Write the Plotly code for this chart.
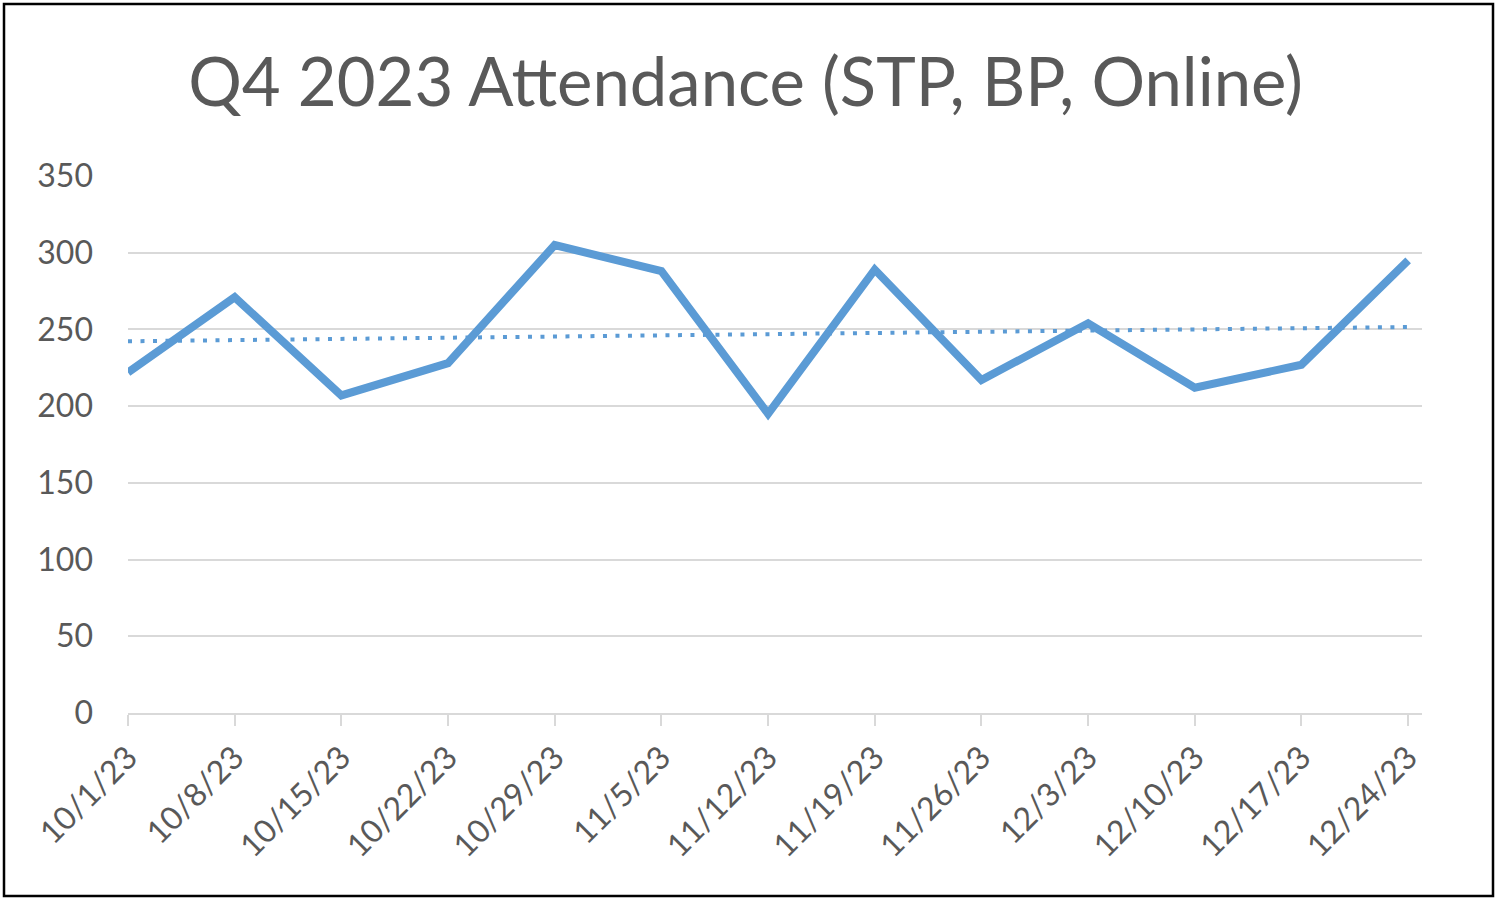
import numpy as np
import plotly.graph_objects as go

# weekly attendance, Q4 2023
dates = ['10/1/23', '10/8/23', '10/15/23', '10/22/23', '10/29/23', '11/5/23',
         '11/12/23', '11/19/23', '11/26/23', '12/3/23', '12/10/23', '12/17/23',
         '12/24/23']
attendance = [222, 271, 207, 228, 305, 288, 195, 289, 217, 254, 212, 227, 295]

ticks_y = [0, 50, 100, 150, 200, 250, 300, 350]

idx = np.arange(len(dates))
# linear trendline, as excel draws it
slope, icpt = np.polyfit(idx, attendance, 1)
trend = slope * idx + icpt

BLUE = '#5B9BD5'
GREY = '#595959'
FONT = 'Lato'

fig = go.Figure()
fig.add_trace(go.Scatter(x=idx, y=trend, mode='lines',
                         line=dict(color=BLUE, width=4, dash='4px,8.5px'),
                         hoverinfo='skip'))
fig.add_trace(go.Scatter(x=idx, y=attendance, mode='lines',
                         line=dict(color=BLUE, width=8)))

W, H = 1500, 905
L, R, T, B = 128, 78, 176, 192
pw, ph = W - L - R, H - T - B

fig.update_layout(
    width=W, height=H,
    margin=dict(l=L, r=R, t=T, b=B),
    paper_bgcolor='white', plot_bgcolor='white',
    showlegend=False,
    title=dict(text='Q4 2023 Attendance (STP, BP, Online)',
               x=0.497, xanchor='center', y=1 - 106 / H, yanchor='bottom',
               font=dict(family=FONT, size=67, color=GREY)),
    font=dict(family=FONT, color=GREY),
    xaxis=dict(range=[0, 12.13], tickmode='array', tickvals=idx,
               ticktext=dates, tickangle=-45,
               tickfont=dict(size=32, color=GREY),
               showgrid=False, zeroline=False,
               showline=True, linecolor='#D9D9D9', linewidth=2,
               ticks='outside', ticklen=11, tickwidth=2, tickcolor='#D9D9D9'),
    yaxis=dict(range=[0, 350], tickvals=ticks_y,
               tickfont=dict(size=32, color=GREY),
               showgrid=True, gridcolor='#D9D9D9', gridwidth=2,
               zeroline=False, showline=False, ticks='',
               ticklabelstandoff=34),
    shapes=[dict(type='rect', xref='paper', yref='paper',
                 x0=(4 - L) / pw, x1=(1493 - L) / pw,
                 y0=(H - B - 896) / ph, y1=(H - B - 4) / ph,
                 line=dict(color='black', width=2.5), layer='above')],
)

fig.write_html('out.html', config={'displayModeBar': False},
               post_script="document.body.style.margin='0px';")
